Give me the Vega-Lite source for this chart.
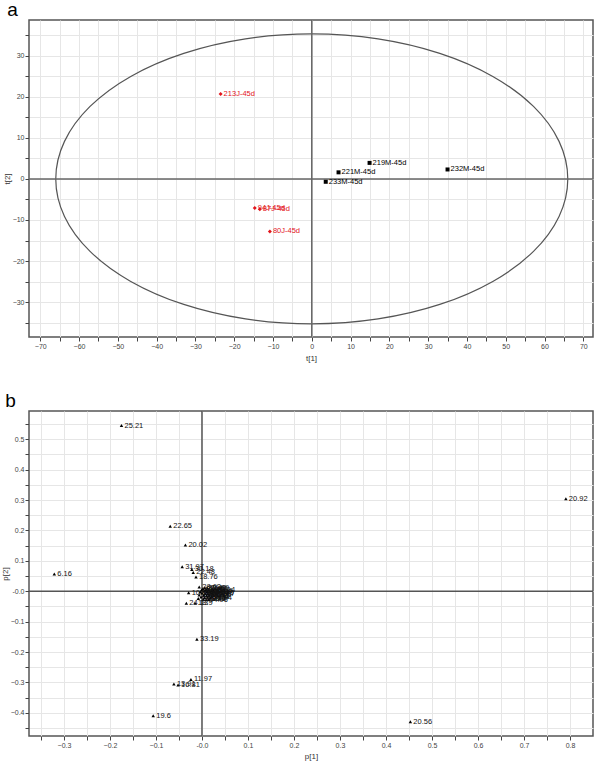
{
  "$schema": "https://vega.github.io/schema/vega-lite/v6.json",
  "padding": {"left": 0, "top": 0, "right": 6, "bottom": 0},
  "background": "white",
  "spacing": 28,
  "config": {
    "font": "Liberation Sans",
    "view": {"stroke": "#555555", "strokeWidth": 1.5},
    "axis": {"domain": false, "gridColor": "#e6e6e6", "gridWidth": 1, "tickColor": "#444444", "tickSize": 4, "labelFontSize": 7, "labelColor": "#444444", "labelPadding": 1, "titleFontSize": 8, "titleFontWeight": "normal", "titleColor": "#333333", "labelFont": "Liberation Sans", "titleFont": "Liberation Sans"},
    "title": {"fontSize": 19, "fontWeight": "normal", "anchor": "start", "color": "#000000", "font": "Liberation Sans", "frame": "bounds", "offset": -1, "dx": 4}
  },
  "datasets": {
    "ellipse": [
      {"i": 0, "ex": 66, "ey": 0}, {"i": 1, "ex": 63.75, "ey": 9.14}, {"i": 2, "ex": 57.16, "ey": 17.65}, {"i": 3, "ex": 46.67, "ey": 24.96},
      {"i": 4, "ex": 33, "ey": 30.57}, {"i": 5, "ex": 17.08, "ey": 34.1}, {"i": 6, "ex": 0, "ey": 35.3}, {"i": 7, "ex": -17.08, "ey": 34.1},
      {"i": 8, "ex": -33, "ey": 30.57}, {"i": 9, "ex": -46.67, "ey": 24.96}, {"i": 10, "ex": -57.16, "ey": 17.65}, {"i": 11, "ex": -63.75, "ey": 9.14},
      {"i": 12, "ex": -66, "ey": 0}, {"i": 13, "ex": -63.75, "ey": -9.14}, {"i": 14, "ex": -57.16, "ey": -17.65}, {"i": 15, "ex": -46.67, "ey": -24.96},
      {"i": 16, "ex": -33, "ey": -30.57}, {"i": 17, "ex": -17.08, "ey": -34.1}, {"i": 18, "ex": 0, "ey": -35.3}, {"i": 19, "ex": 17.08, "ey": -34.1},
      {"i": 20, "ex": 33, "ey": -30.57}, {"i": 21, "ex": 46.67, "ey": -24.96}, {"i": 22, "ex": 57.16, "ey": -17.65}, {"i": 23, "ex": 63.75, "ey": -9.14}
    ],
    "scores": [
      {"obs": "213J-45d", "t1": -23.5, "t2": 20.7, "grp": "J"},
      {"obs": "94J-45d", "t1": -14.7, "t2": -7.1, "grp": "J"},
      {"obs": "87J-45d", "t1": -13.4, "t2": -7.4, "grp": "J"},
      {"obs": "80J-45d", "t1": -10.8, "t2": -12.8, "grp": "J"},
      {"obs": "219M-45d", "t1": 14.9, "t2": 3.9, "grp": "M"},
      {"obs": "221M-45d", "t1": 6.9, "t2": 1.6, "grp": "M"},
      {"obs": "232M-45d", "t1": 35.0, "t2": 2.3, "grp": "M"},
      {"obs": "233M-45d", "t1": 3.6, "t2": -0.7, "grp": "M"}
    ],
    "loadings": [
      {"var": "25.21", "p1": -0.175, "p2": 0.545},
      {"var": "20.92", "p1": 0.791, "p2": 0.304},
      {"var": "22.65", "p1": -0.069, "p2": 0.214},
      {"var": "20.02", "p1": -0.036, "p2": 0.152},
      {"var": "6.16", "p1": -0.321, "p2": 0.057},
      {"var": "31.97", "p1": -0.043, "p2": 0.081},
      {"var": "30.18", "p1": -0.022, "p2": 0.072},
      {"var": "22.48", "p1": -0.019, "p2": 0.062},
      {"var": "18.76", "p1": -0.013, "p2": 0.047},
      {"var": "28.62", "p1": -0.006, "p2": 0.014},
      {"var": "10.57", "p1": -0.029, "p2": -0.005},
      {"var": "24.13", "p1": -0.034, "p2": -0.039},
      {"var": "18.9", "p1": -0.015, "p2": -0.039},
      {"var": "33.19", "p1": -0.011, "p2": -0.158},
      {"var": "11.97", "p1": -0.024, "p2": -0.29},
      {"var": "13.91", "p1": -0.061, "p2": -0.305},
      {"var": "16.81", "p1": -0.052, "p2": -0.308},
      {"var": "19.6", "p1": -0.106, "p2": -0.409},
      {"var": "20.56", "p1": 0.453, "p2": -0.429},
      {"var": "27.43", "p1": 0.002, "p2": 0.008},
      {"var": "14.52", "p1": 0.009, "p2": 0.006},
      {"var": "9.87", "p1": 0.015, "p2": 0.004},
      {"var": "21.36", "p1": 0.020, "p2": 0.002},
      {"var": "12.04", "p1": 0.005, "p2": 0.001},
      {"var": "17.29", "p1": 0.011, "p2": -0.001},
      {"var": "23.88", "p1": 0.018, "p2": -0.003},
      {"var": "8.45", "p1": -0.004, "p2": -0.002},
      {"var": "26.71", "p1": 0.0, "p2": -0.006},
      {"var": "15.63", "p1": 0.007, "p2": -0.008},
      {"var": "19.94", "p1": 0.013, "p2": -0.007},
      {"var": "29.15", "p1": 0.022, "p2": -0.005},
      {"var": "13.38", "p1": -0.006, "p2": -0.012},
      {"var": "22.07", "p1": 0.004, "p2": -0.013},
      {"var": "16.42", "p1": 0.010, "p2": -0.015},
      {"var": "25.66", "p1": 0.016, "p2": -0.012},
      {"var": "7.91", "p1": 0.021, "p2": -0.016},
      {"var": "30.52", "p1": -0.002, "p2": -0.019},
      {"var": "11.23", "p1": 0.006, "p2": -0.021},
      {"var": "20.33", "p1": 0.012, "p2": -0.020},
      {"var": "28.04", "p1": 0.018, "p2": -0.022},
      {"var": "17.85", "p1": -0.008, "p2": -0.024},
      {"var": "21.79", "p1": 0.003, "p2": -0.026},
      {"var": "14.96", "p1": 0.009, "p2": -0.028},
      {"var": "9.12", "p1": 0.015, "p2": -0.027},
      {"var": "24.57", "p1": 0.024, "p2": -0.010},
      {"var": "23.14", "p1": 0.025, "p2": 0.003},
      {"var": "32.40", "p1": 0.006, "p2": 0.012},
      {"var": "18.31", "p1": -0.001, "p2": 0.004},
      {"var": "26.09", "p1": 0.012, "p2": 0.010}
    ],
    "zero": [{"z": 0}]
  },
  "vconcat": [
    {
      "title": {"text": "a"},
      "width": 564,
      "height": 317,
      "encoding": {
        "x": {"type": "quantitative", "scale": {"domain": [-72.9, 72.5], "nice": false, "zero": false},
              "axis": {"title": "t[1]", "titlePadding": 5, "values": [-70,-65,-60,-55,-50,-45,-40,-35,-30,-25,-20,-15,-10,-5,0,5,10,15,20,25,30,35,40,45,50,55,60,65,70], "labelExpr": "datum.value % 10 == 0 ? datum.label : ''"}},
        "y": {"type": "quantitative", "scale": {"domain": [-38.5, 38.7], "nice": false, "zero": false},
              "axis": {"title": "t[2]", "titlePadding": 1, "values": [-35,-30,-25,-20,-15,-10,-5,0,5,10,15,20,25,30,35], "labelExpr": "datum.value % 10 == 0 ? datum.label : ''"}}
      },
      "layer": [
        {"data": {"name": "ellipse"}, "mark": {"type": "line", "color": "#555555", "strokeWidth": 1.2, "interpolate": "cardinal-closed"},
         "encoding": {"x": {"field": "ex"}, "y": {"field": "ey"}, "order": {"field": "i", "type": "quantitative"}}},
        {"data": {"name": "zero"}, "mark": {"type": "rule", "color": "#666666", "strokeWidth": 1.5}, "encoding": {"x": {"field": "z"}}},
        {"data": {"name": "zero"}, "mark": {"type": "rule", "color": "#666666", "strokeWidth": 1.5}, "encoding": {"y": {"field": "z"}}},
        {"data": {"name": "scores"}, "mark": {"type": "point", "filled": true, "size": 16, "opacity": 1},
         "encoding": {"x": {"field": "t1"}, "y": {"field": "t2"},
                      "color": {"field": "grp", "type": "nominal", "scale": {"domain": ["J", "M"], "range": ["#e3141b", "#000000"]}, "legend": null},
                      "shape": {"field": "grp", "type": "nominal", "scale": {"domain": ["J", "M"], "range": ["diamond", "square"]}, "legend": null}}},
        {"data": {"name": "scores"}, "mark": {"type": "text", "align": "left", "baseline": "middle", "dx": 3, "fontSize": 7.5},
         "encoding": {"x": {"field": "t1"}, "y": {"field": "t2"}, "text": {"field": "obs"},
                      "color": {"field": "grp", "type": "nominal", "scale": {"domain": ["J", "M"], "range": ["#e3141b", "#000000"]}, "legend": null}}}
      ]
    },
    {
      "title": {"text": "b"},
      "width": 564,
      "height": 325,
      "encoding": {
        "x": {"type": "quantitative", "scale": {"domain": [-0.376, 0.85], "nice": false, "zero": false},
              "axis": {"title": "p[1]", "titlePadding": 4, "values": [-0.35,-0.3,-0.25,-0.2,-0.15,-0.1,-0.05,0,0.05,0.1,0.15,0.2,0.25,0.3,0.35,0.4,0.45,0.5,0.55,0.6,0.65,0.7,0.75,0.8],
                       "labelExpr": "abs(datum.value*10 - round(datum.value*10)) < 0.001 ? (abs(datum.value) < 0.001 ? '-0.0' : format(datum.value, '.1f')) : ''"}},
        "y": {"type": "quantitative", "scale": {"domain": [-0.476, 0.593], "nice": false, "zero": false},
              "axis": {"title": "p[2]", "titlePadding": 1, "values": [-0.45,-0.4,-0.35,-0.3,-0.25,-0.2,-0.15,-0.1,-0.05,0,0.05,0.1,0.15,0.2,0.25,0.3,0.35,0.4,0.45,0.5,0.55],
                       "labelExpr": "abs(datum.value*10 - round(datum.value*10)) < 0.001 ? (abs(datum.value) < 0.001 ? '-0.0' : format(datum.value, '.1f')) : ''"}}
      },
      "layer": [
        {"data": {"name": "zero"}, "mark": {"type": "rule", "color": "#555555", "strokeWidth": 1.5}, "encoding": {"x": {"field": "z"}}},
        {"data": {"name": "zero"}, "mark": {"type": "rule", "color": "#555555", "strokeWidth": 1.5}, "encoding": {"y": {"field": "z"}}},
        {"data": {"name": "loadings"}, "mark": {"type": "point", "shape": "triangle-up", "filled": true, "size": 12, "color": "#000000", "opacity": 1},
         "encoding": {"x": {"field": "p1"}, "y": {"field": "p2"}}},
        {"data": {"name": "loadings"}, "mark": {"type": "text", "align": "left", "baseline": "middle", "dx": 3, "fontSize": 7.5, "color": "#111111"},
         "encoding": {"x": {"field": "p1"}, "y": {"field": "p2"}, "text": {"field": "var"}}}
      ]
    }
  ]
}
